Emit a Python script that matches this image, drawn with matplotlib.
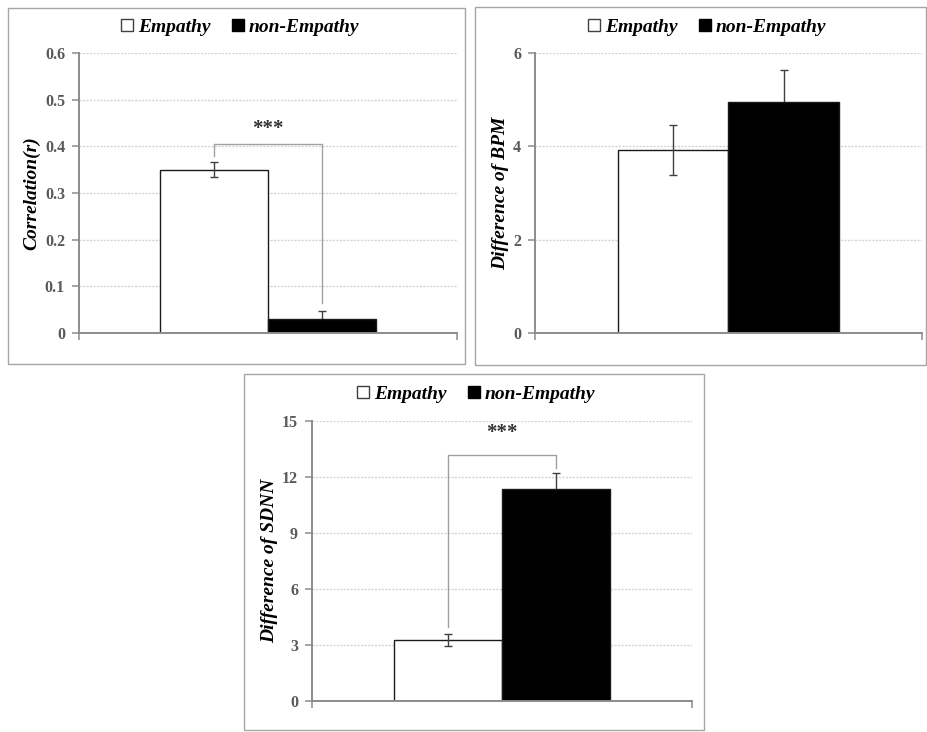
"""Empathy vs non-Empathy: three bar panels (correlation, BPM, SDNN)."""

import matplotlib

matplotlib.use("Agg")
import matplotlib.pyplot as plt
from matplotlib.lines import Line2D
from matplotlib.patches import Rectangle

plt.rcParams["font.family"] = ["Liberation Serif", "DejaVu Serif"]

groups = ["Empathy", "non-Empathy"]

corr_mean = [0.35, 0.031]
corr_err = [0.016, 0.016]
corr_ticks = [0, 0.1, 0.2, 0.3, 0.4, 0.5, 0.6]
corr_bracket = [0.38, 0.405, 0.064]  # left leg end, bar height, right leg end
corr_star_y = 0.437

bpm_mean = [3.92, 4.95]
bpm_err = [0.53, 0.68]
bpm_ticks = [0, 2, 4, 6]

sdnn_mean = [3.28, 11.38]
sdnn_err = [0.33, 0.82]
sdnn_ticks = [0, 3, 6, 9, 12, 15]
sdnn_bracket = [3.96, 13.18, 12.5]
sdnn_star_y = 14.36

W, H = 928, 732
BAR_W = 0.285
AXIS_GRAY = "#8c8c8c"
TICK_GRAY = "#595959"


def _fig_box(left, top, right, bottom):
    """pixel box -> figure fraction [l, b, w, h]"""
    return [left / W, 1 - bottom / H, (right - left) / W, (bottom - top) / H]


def _panel(fig, box, frame, means, errs, ticks, ylabel, legend_xy,
           bracket=None, star_y=None, tick_fmt="{:g}"):
    l, t, r, b = frame
    fig.patches.append(Rectangle((l / W, 1 - b / H), (r - l) / W, (b - t) / H,
                                 transform=fig.transFigure, fill=False,
                                 edgecolor="#a6a6a6", linewidth=1.0))

    ax = fig.add_axes(_fig_box(*box))
    xs = [-BAR_W / 2, BAR_W / 2]
    # white bar under the error bars, black bar on top so its lower whisker is hidden
    ax.bar(xs[0], means[0], width=BAR_W, color="white", edgecolor="#1a1a1a",
           linewidth=1.0, zorder=3)
    ax.bar(xs[1], means[1], width=BAR_W, color="black", edgecolor="#1a1a1a",
           linewidth=1.0, zorder=5)
    ax.errorbar(xs, means, yerr=errs, fmt="none", ecolor="#404040",
                elinewidth=1.0, capsize=3, capthick=1.0, zorder=4)

    ax.set_xlim(-0.5, 0.5)
    ax.set_ylim(ticks[0], ticks[-1])
    ax.set_yticks(ticks)
    ax.set_yticklabels([tick_fmt.format(v) for v in ticks])
    ax.set_xticks([-0.5, 0.5])
    ax.set_xticklabels([])
    ax.tick_params(axis="both", direction="out", length=5, width=1.1,
                   color=AXIS_GRAY, labelcolor=TICK_GRAY, labelsize=11.5, pad=5)
    for lab in ax.get_yticklabels():
        lab.set_fontweight("bold")

    ax.yaxis.grid(True, color="#d4d4d4", linestyle=(0, (1.5, 1.0)), linewidth=1.0)
    ax.set_axisbelow(True)
    for s in ["top", "right"]:
        ax.spines[s].set_visible(False)
    for s in ["left", "bottom"]:
        ax.spines[s].set_color(AXIS_GRAY)
        ax.spines[s].set_linewidth(1.4)
        ax.spines[s].set_zorder(6)

    ax.set_ylabel(ylabel, fontsize=14, fontweight="bold", style="italic",
                  labelpad=3)

    if bracket is not None:
        y_left, y_top, y_right = bracket
        ax.plot([xs[0], xs[0], xs[1], xs[1]], [y_left, y_top, y_top, y_right],
                color="#a0a0a0", linewidth=1.0, zorder=2)
        ax.text(0, star_y, "***", ha="center", va="center", fontsize=15,
                fontweight="bold", color="#333333")

    handles = [
        Line2D([], [], linestyle="none", marker="s", markersize=8.5,
               markerfacecolor="white", markeredgecolor="#404040", markeredgewidth=1.0),
        Line2D([], [], linestyle="none", marker="s", markersize=8.5,
               markerfacecolor="black", markeredgecolor="black"),
    ]
    fig.legend(handles, groups, loc="center",
               bbox_to_anchor=(legend_xy[0] / W, 1 - legend_xy[1] / H),
               ncol=2, frameon=False, handlelength=0.6, handletextpad=0.25,
               columnspacing=1.1, borderaxespad=0,
               prop={"size": 14, "weight": "bold", "style": "italic"})
    return ax


fig = plt.figure(figsize=(W / 100, H / 100), dpi=100)

_panel(fig, (79, 53, 457, 333), (8, 8, 465, 364), corr_mean, corr_err,
       corr_ticks, "Correlation(r)", (240, 27), corr_bracket, corr_star_y)
_panel(fig, (535, 53, 922, 333), (475, 7, 926, 365), bpm_mean, bpm_err,
       bpm_ticks, "Difference of BPM", (707, 27))
_panel(fig, (312, 421, 692, 701), (244, 374, 704, 730), sdnn_mean, sdnn_err,
       sdnn_ticks, "Difference of SDNN", (476, 394), sdnn_bracket, sdnn_star_y)

fig.savefig("out.png", dpi=100)
